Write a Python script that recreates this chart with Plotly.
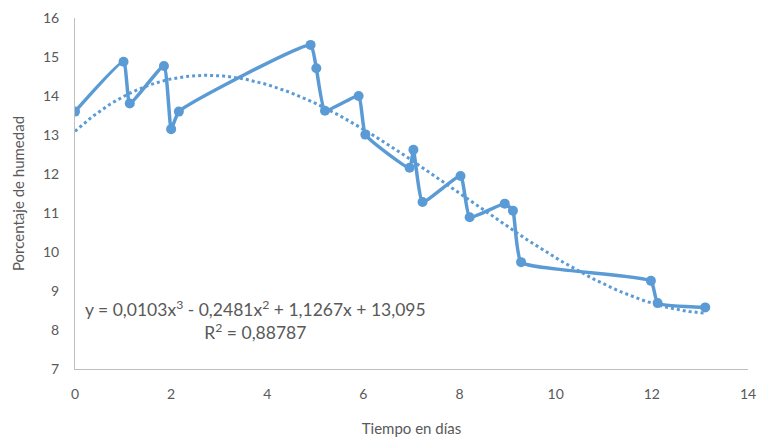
import numpy as np
import plotly.graph_objects as go

# Data
dias = [0, 1.01, 1.14, 1.85, 2.0, 2.16, 4.9, 5.02, 5.2, 5.9, 6.04, 6.96, 7.04, 7.23,
        8.02, 8.21, 8.94, 9.11, 9.28, 11.98, 12.12, 13.11]
humedad = [13.60, 14.88, 13.81, 14.77, 13.15, 13.60, 15.31, 14.71, 13.62, 14.00, 13.01,
           12.16, 12.62, 11.28, 11.95, 10.89, 11.24, 11.06, 9.74, 9.26, 8.69, 8.58]

# Polynomial trendline coefficients shown on the chart (x^3, x^2, x, c)
coef = [0.0103, -0.2481, 1.1267, 13.095]
ecuacion = "y = 0,0103x<sup>3</sup> - 0,2481x<sup>2</sup> + 1,1267x + 13,095<br>R<sup>2</sup> = 0,88787"

xticks = [0, 2, 4, 6, 8, 10, 12, 14]
yticks = [7, 8, 9, 10, 11, 12, 13, 14, 15, 16]

azul = "#5B9BD5"
gris = "#595959"
fuente = "Lato, 'Open Sans', sans-serif"

xt = np.linspace(min(dias), max(dias), 200)
yt = np.polyval(coef, xt)

fig = go.Figure()
fig.add_trace(go.Scatter(x=xt, y=yt, mode="lines",
                         line=dict(color=azul, width=3, dash="dot"),
                         showlegend=False, hoverinfo="skip"))
fig.add_trace(go.Scatter(x=dias, y=humedad, mode="lines+markers",
                         line=dict(color=azul, width=3.5, shape="spline", smoothing=0.4),
                         marker=dict(color=azul, size=10),
                         showlegend=False))

fig.add_annotation(x=3.75, y=8.25, xref="x", yref="y", text=ecuacion,
                   showarrow=False, align="center",
                   font=dict(family=fuente, size=17.5, color=gris))

# the page adds an 8px body margin, so the figure is sized to fit the window
fig.update_layout(
    width=761, height=434,
    margin=dict(l=67, r=21, t=10, b=73),
    paper_bgcolor="white", plot_bgcolor="white",
    font=dict(family=fuente, color=gris, size=13),
)
fig.update_xaxes(range=[0, 14], tickvals=xticks, showgrid=False, zeroline=False,
                 showline=True, linecolor="#bfbfbf", linewidth=1, automargin=False,
                 ticks="outside", ticklen=12, tickcolor="rgba(0,0,0,0)",
                 ticklabeloverflow="allow",
                 tickfont=dict(size=14, color=gris),
                 title=dict(text="Tiempo en días", font=dict(size=15, color=gris), standoff=22))
fig.update_yaxes(range=[7, 16], tickvals=yticks, showgrid=False, zeroline=False,
                 showline=True, linecolor="#bfbfbf", linewidth=1, automargin=False,
                 ticks="outside", ticklen=12, tickcolor="rgba(0,0,0,0)",
                 ticklabeloverflow="allow",
                 tickfont=dict(size=14, color=gris),
                 title=dict(text="Porcentaje de humedad", font=dict(size=15, color=gris), standoff=14))

fig.write_html("out.html")
